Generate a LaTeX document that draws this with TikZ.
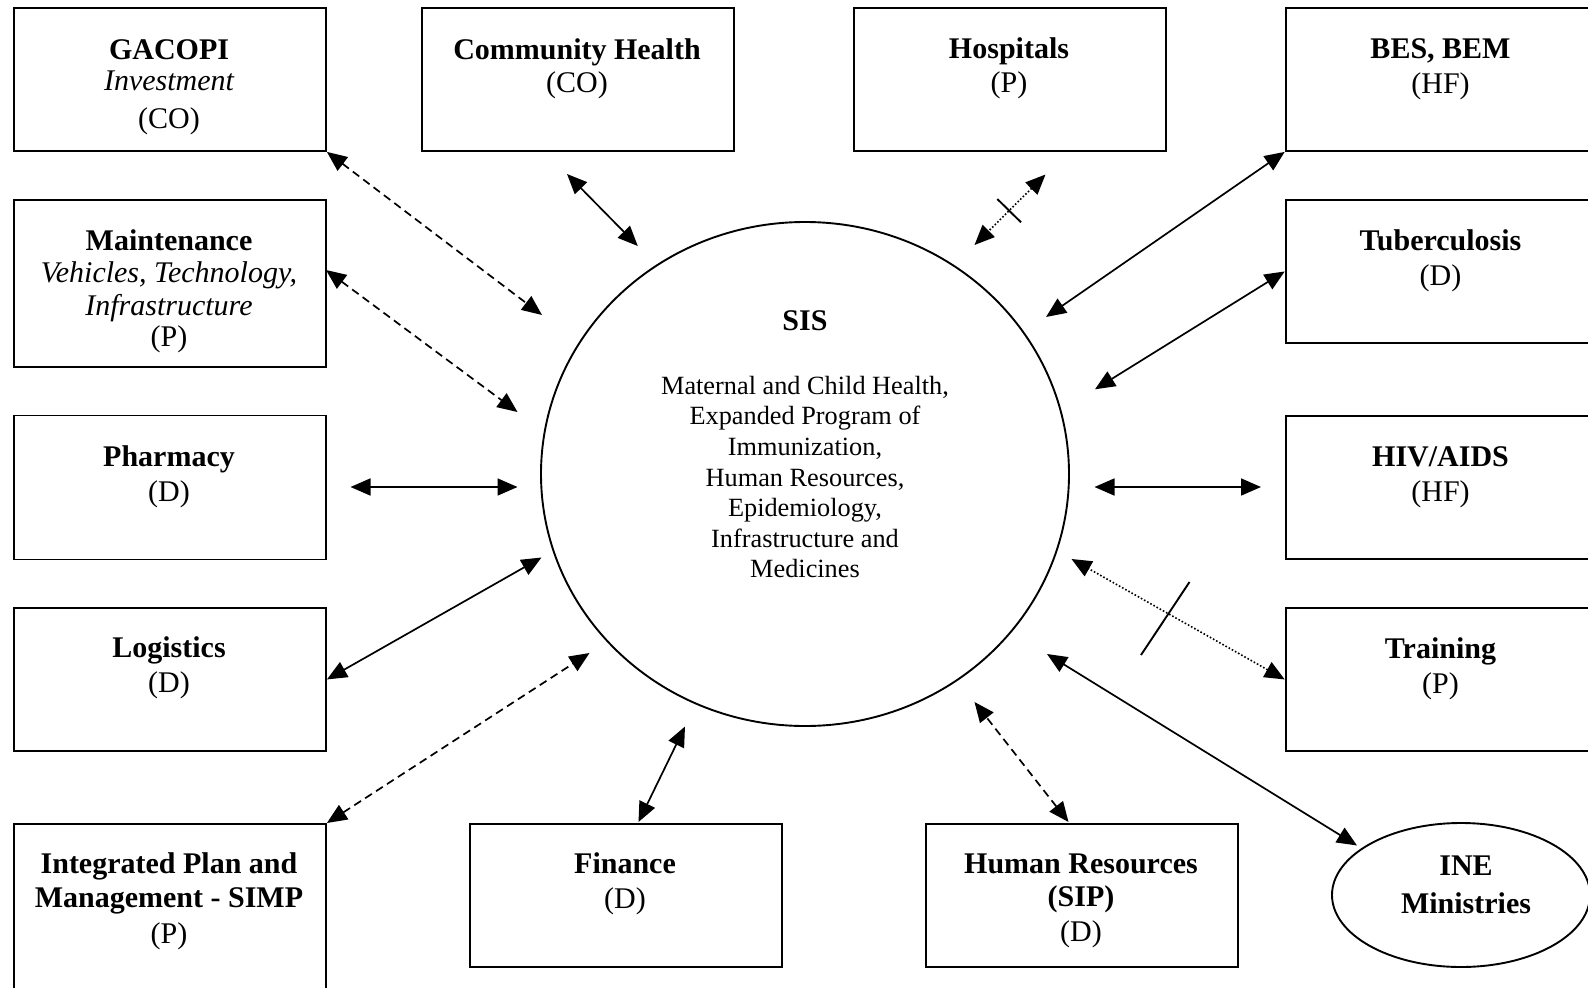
\documentclass[tikz,border=0pt]{standalone}
\usepackage{fontspec}
\setmainfont{Liberation Serif}
\usetikzlibrary{arrows.meta,shapes.geometric}

\begin{document}
\begin{tikzpicture}[x=1pt,y=-1pt,
  unitbox/.style={draw, line width=1.9pt, minimum width=312pt, minimum height=#1,
    inner sep=0pt, anchor=north west},
  tb/.style={font=\fontsize{30}{36}\selectfont\bfseries, anchor=base, inner sep=0pt},
  tr/.style={font=\fontsize{30}{36}\selectfont, anchor=base, inner sep=0pt},
  ti/.style={font=\fontsize{30}{36}\selectfont\itshape, anchor=base, inner sep=0pt},
  ts/.style={font=\fontsize{26.3}{31}\selectfont, anchor=base, inner sep=0pt},
  link/.style={line width=1.7pt,
    {Triangle[length=20pt,width=17pt]}-{Triangle[length=20pt,width=17pt]}},
  dashlink/.style={link, dash pattern=on 8pt off 5pt},
  dotlink/.style={link, line width=1.6pt, dash pattern=on 1.6pt off 2pt},
  cut/.style={line width=1.9pt}]

\useasboundingbox (0,0) rectangle (1588,988);
\clip (0,0) rectangle (1588,988);

% central unit
\node[draw, ellipse, line width=1.9pt, minimum width=528pt, minimum height=504pt,
  inner sep=0pt] (sis) at (805,474) {};
\node[tb] (sis-t) at (805,330) {SIS};
\node[ts] (sis-l1) at (805,394.3) {Maternal and Child Health,};
\node[ts] (sis-l2) at (805,424.9) {Expanded Program of};
\node[ts] (sis-l3) at (805,455.5) {Immunization,};
\node[ts] (sis-l4) at (805,486.1) {Human Resources,};
\node[ts] (sis-l5) at (805,516.7) {Epidemiology,};
\node[ts] (sis-l6) at (805,547.3) {Infrastructure and};
\node[ts] (sis-l7) at (805,577.9) {Medicines};

% left column
\node[unitbox=143pt] (gacopi) at (13,7) {};
\node[tb] (gacopi-t) at (169,59) {GACOPI};
\node[ti] (gacopi-s) at (169,90) {Investment};
\node[tr] (gacopi-c) at (169,128) {(CO)};

\node[unitbox=167pt] (maint) at (13,199) {};
\node[tb] (maint-t) at (169,250) {Maintenance};
\node[ti] (maint-s1) at (169,282) {Vehicles, Technology,};
\node[ti] (maint-s2) at (169,315) {Infrastructure};
\node[tr] (maint-c) at (169,346) {(P)};

\node[unitbox=144pt] (pharm) at (13,414.5) {};
\node[tb] (pharm-t) at (169,466) {Pharmacy};
\node[tr] (pharm-c) at (169,501) {(D)};

\node[unitbox=143pt] (logi) at (13,607) {};
\node[tb] (logi-t) at (169,657) {Logistics};
\node[tr] (logi-c) at (169,692) {(D)};

\node[unitbox=200pt] (integ) at (13,823) {};
\node[tb] (integ-t1) at (169,873) {Integrated Plan and};
\node[tb] (integ-t2) at (169,907) {Management - SIMP};
\node[tr] (integ-c) at (169,943) {(P)};

% top row
\node[unitbox=143pt] (comm) at (421,7) {};
\node[tb] (comm-t) at (577,59) {Community Health};
\node[tr] (comm-c) at (577,92.5) {(CO)};

\node[unitbox=143pt] (hosp) at (853,7) {};
\node[tb] (hosp-t) at (1009,58.5) {Hospitals};
\node[tr] (hosp-c) at (1009,92) {(P)};

% right column
\node[unitbox=143pt] (bes) at (1284.7,7) {};
\node[tb] (bes-t) at (1440.5,58.5) {BES, BEM};
\node[tr] (bes-c) at (1440.5,93) {(HF)};

\node[unitbox=143pt] (tbc) at (1284.7,199) {};
\node[tb] (tbc-t) at (1440.5,250) {Tuberculosis};
\node[tr] (tbc-c) at (1440.5,285) {(D)};

\node[unitbox=143pt] (hiv) at (1284.7,415) {};
\node[tb] (hiv-t) at (1440.5,466) {HIV/AIDS};
\node[tr] (hiv-c) at (1440.5,501) {(HF)};

\node[unitbox=143pt] (train) at (1284.7,607) {};
\node[tb] (train-t) at (1440.5,658) {Training};
\node[tr] (train-c) at (1440.5,693) {(P)};

\node[draw, ellipse, line width=1.9pt, minimum width=258pt, minimum height=144pt,
  inner sep=0pt] (ine) at (1461,895) {};
\node[tb] (ine-t1) at (1466,875) {INE};
\node[tb] (ine-t2) at (1466,913) {Ministries};

% bottom row
\node[unitbox=143pt] (fin) at (469,823) {};
\node[tb] (fin-t) at (625,873) {Finance};
\node[tr] (fin-c) at (625,908) {(D)};

\node[unitbox=143pt] (hr) at (925,823) {};
\node[tb] (hr-t1) at (1081,873) {Human Resources};
\node[tb] (hr-t2) at (1081,906) {(SIP)};
\node[tr] (hr-c) at (1081,941) {(D)};

% connector ends
\coordinate (c-gacopi) at (542,315);
\coordinate (maint-e) at (326,270);
\coordinate (c-maint) at (517.5,412);
\coordinate (pharm-e) at (350.5,487);
\coordinate (c-pharm) at (517.5,487);
\coordinate (c-logi) at (541.5,557.5);
\coordinate (c-integ) at (589.5,653);
\coordinate (fin-n) at (638.5,822);
\coordinate (c-fin) at (685,726.5);
\coordinate (hr-n) at (1068.5,822);
\coordinate (c-hr) at (974.5,702);
\coordinate (ine-w) at (1357,845.5);
\coordinate (c-ine) at (1047,654);
\coordinate (c-train) at (1071.5,559);
\coordinate (hiv-w) at (1261,487);
\coordinate (c-hiv) at (1094.5,487);
\coordinate (c-tbc) at (1095,389.3);
\coordinate (c-bes) at (1046,317);
\coordinate (hosp-s) at (1045.5,174.5);
\coordinate (c-hosp) at (974.5,245);
\coordinate (comm-s) at (567,174);
\coordinate (c-comm) at (637.8,246);

% connectors
\draw[dashlink] (gacopi.south east) -- (c-gacopi);
\draw[dashlink] (maint-e) -- (c-maint);
\draw[link] (pharm-e) -- (c-pharm);
\draw[link] (logi.east) -- (c-logi);
\draw[dashlink] (integ.north east) -- (c-integ);
\draw[link] (fin-n) -- (c-fin);
\draw[dashlink] (hr-n) -- (c-hr);
\draw[link] (ine-w) -- (c-ine);
\draw[dotlink] (train.west) -- (c-train);
\draw[link] (hiv-w) -- (c-hiv);
\draw[link] (tbc.west) -- (c-tbc);
\draw[link] (bes.south west) -- (c-bes);
\draw[dotlink] (hosp-s) -- (c-hosp);
\draw[link] (comm-s) -- (c-comm);

% cut marks on the dotted links
\draw[cut] (1141,655) -- (1189.5,582);
\draw[cut] (997.3,199) -- (1021,222.3);

\end{tikzpicture}
\end{document}
